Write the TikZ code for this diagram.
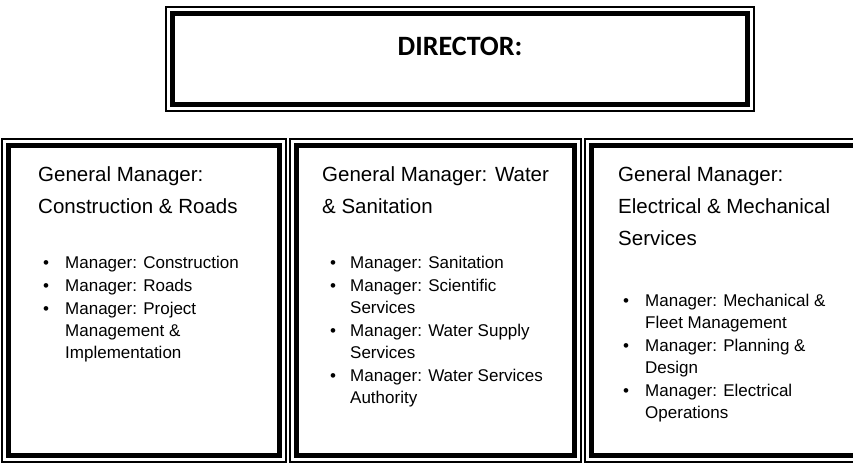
\documentclass[tikz,border=0pt]{standalone}
\usepackage{fontspec}
\setmainfont{Liberation Sans}
\newfontfamily\calibrifont{Carlito}
\usetikzlibrary{fit}

% lines stacked from the first baseline down
\newcommand{\stacklines}[1]{\begin{tabular}[t]{@{}l@{}}#1\end{tabular}}

\tikzset{
  thickbox/.style={draw, line width=5pt, outer sep=0pt, inner sep=0pt},
  thinframe/.style={draw, line width=1.2pt, inner sep=6.5pt, outer sep=0pt},
  gmtitle/.style={anchor=base west, inner sep=0pt, font=\fontsize{20.5}{32}\selectfont},
  bul/.style={anchor=base west, inner sep=0pt, font=\fontsize{17}{22}\selectfont},
  item/.style={anchor=base west, inner sep=0pt, font=\fontsize{17}{22}\selectfont}
}

\begin{document}
\begin{tikzpicture}[x=1pt, y=-1pt]
    \useasboundingbox (0,0) rectangle (853,463);
    \clip (0,0) rectangle (853,463);

    % Director box
    \node[thickbox, minimum width=575pt, minimum height=91pt] (dirbox) at (460,59) {};
    \node[thinframe, fit=(dirbox)] (dirframe) {};
    \node[anchor=base, inner sep=0pt, font=\calibrifont\bfseries\fontsize{28}{30}\selectfont] (dirlabel) at (460,55) {DIRECTOR:};

    % General manager boxes
    \node[thickbox, minimum width=271pt, minimum height=310pt] (roadsbox) at (144,300.5) {};
    \node[thickbox, minimum width=278pt, minimum height=310pt] (waterbox) at (435.5,300.5) {};
    \node[thickbox, minimum width=288.5pt, minimum height=310pt] (elecbox) at (735.75,300.5) {};
    \node[thinframe, fit=(roadsbox)] (roadsframe) {};
    \node[thinframe, fit=(waterbox)] (waterframe) {};
    \node[thinframe, fit=(elecbox)] (elecframe) {};

    % Titles
    \node[gmtitle] (roadstitle) at (38,181) {\stacklines{General Manager:\\Construction \& Roads}};
    \node[gmtitle] (watertitle) at (322,181) {\stacklines{General Manager: Water\\\& Sanitation}};
    \node[gmtitle] (electitle) at (618,181) {\stacklines{General Manager:\\Electrical \& Mechanical\\Services}};

    % Managers under each box
    \foreach \n/\y/\txt in {1/268/{Manager: Construction}, 2/291/{Manager: Roads},
                            3/314/{Manager: Project\\Management \&\\Implementation}} {
        \node[bul] (roadsdot\n) at (43,\y) {\textbullet};
        \node[item] (roadsitem\n) at (65,\y) {\stacklines{\txt}};
    }
    \foreach \n/\y/\txt in {1/268/{Manager: Sanitation}, 2/291/{Manager: Scientific\\Services},
                            3/336/{Manager: Water Supply\\Services}, 4/381/{Manager: Water Services\\Authority}} {
        \node[bul] (waterdot\n) at (330,\y) {\textbullet};
        \node[item] (wateritem\n) at (350,\y) {\stacklines{\txt}};
    }
    \foreach \n/\y/\txt in {1/306/{Manager: Mechanical \&\\Fleet Management}, 2/351/{Manager: Planning \&\\Design},
                            3/396/{Manager: Electrical\\Operations}} {
        \node[bul] (elecdot\n) at (623,\y) {\textbullet};
        \node[item] (elecitem\n) at (645,\y) {\stacklines{\txt}};
    }
\end{tikzpicture}
\end{document}
